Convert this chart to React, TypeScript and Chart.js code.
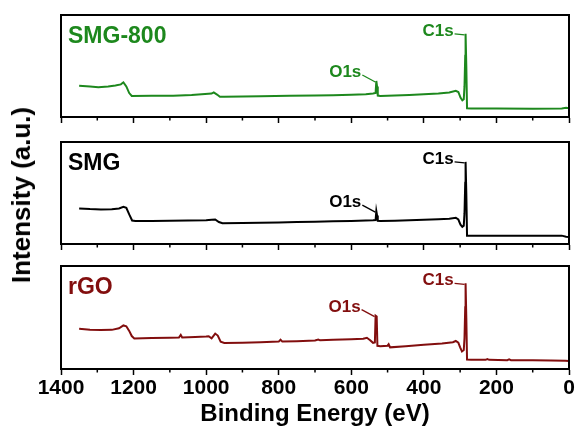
import React, { useEffect, useRef } from 'react';
import { Chart, registerables } from 'chart.js';

Chart.register(...registerables);

const FONT = '"Liberation Sans", Arial, Helvetica, sans-serif';

// ---------- data (binding energy in eV, intensity in a.u. per panel 0-100) ----------
const smg800Energy = [1350, 1320, 1297, 1270, 1250, 1235, 1228, 1220, 1212, 1205, 1150, 1091, 1040, 1003, 985, 979, 970, 962, 950, 900, 850, 770, 700, 650, 600, 560, 540, 533, 531, 529, 527, 520, 480, 440, 400, 360, 330, 312, 305, 299, 294, 290, 288, 286, 285, 283, 281, 270, 200, 100, 20, 8, 0];
const smg800Counts = [30.7, 29.8, 29.1, 29.8, 30.8, 32.0, 34.0, 30.0, 23.5, 20.6, 20.8, 20.9, 21.5, 22.5, 23.0, 24.2, 22.0, 19.9, 19.8, 20.1, 20.4, 20.9, 21.1, 21.3, 21.8, 22.3, 23.0, 23.5, 35.3, 30.0, 21.0, 20.6, 21.0, 21.6, 22.2, 23.0, 24.0, 25.6, 24.5, 19.0, 16.4, 17.5, 30.0, 60.0, 81.5, 50.0, 8.5, 8.4, 8.3, 8.2, 8.4, 9.0, 8.6];

const smgEnergy = [1350, 1320, 1290, 1260, 1240, 1228, 1220, 1212, 1204, 1195, 1150, 1100, 1050, 1000, 985, 975, 965, 955, 900, 850, 800, 750, 700, 650, 600, 560, 540, 533, 531, 529, 527, 520, 480, 440, 400, 360, 330, 312, 305, 299, 294, 290, 288, 286, 285, 283, 281, 270, 200, 100, 20, 8, 0];
const smgCounts = [34.9, 34.2, 33.8, 34.0, 34.8, 36.5, 35.5, 29.0, 23.0, 22.5, 22.6, 22.8, 23.0, 23.3, 23.8, 24.0, 21.5, 20.3, 20.5, 20.8, 21.2, 21.5, 21.8, 22.2, 22.6, 23.0, 23.3, 23.5, 32.2, 28.0, 22.8, 22.5, 22.8, 23.2, 23.7, 24.2, 24.8, 25.7, 24.0, 19.0, 16.9, 18.0, 30.0, 60.0, 80.5, 50.0, 8.2, 8.2, 8.1, 8.1, 8.2, 7.2, 6.8];

const rgoEnergy = [1350, 1320, 1290, 1260, 1240, 1228, 1220, 1212, 1205, 1198, 1150, 1100, 1075, 1070, 1066, 1030, 1000, 993, 985, 975, 968, 960, 950, 900, 850, 800, 795, 790, 750, 700, 691, 686, 650, 600, 567, 557, 548, 540, 535, 533, 530, 528, 520, 500, 497, 493, 450, 400, 350, 320, 312, 305, 300, 295, 290, 288, 286, 285, 283, 281, 270, 230, 225, 220, 170, 165, 160, 100, 50, 10, 0];
const rgoCounts = [39.1, 38.2, 37.8, 38.0, 39.5, 42.3, 41.5, 37.0, 32.0, 29.7, 30.0, 30.4, 30.6, 33.1, 30.6, 31.0, 31.5, 31.8, 29.7, 34.4, 32.5, 26.5, 25.2, 25.6, 26.0, 26.6, 28.4, 26.6, 27.0, 27.6, 28.6, 27.8, 28.3, 28.8, 29.3, 30.3, 28.0, 25.4, 25.8, 51.8, 51.0, 22.5, 22.2, 22.6, 24.0, 21.0, 22.2, 23.6, 24.8, 26.0, 27.2, 25.5, 21.0, 17.0, 18.5, 30.0, 60.0, 83.2, 50.0, 9.2, 9.0, 8.9, 9.6, 8.9, 8.6, 9.3, 8.6, 8.4, 8.3, 8.1, 7.8];

const sampleNames = ['SMG-800', 'SMG', 'rGO'];
const sampleColors = ['#1d881d', '#000000', '#820e0e'];
const peakLabels = ['O1s', 'C1s'];
const smg800Peaks = [531, 285];
const smgPeaks = [531, 285];
const rgoPeaks = [533, 285];

const xTicks = [1400, 1200, 1000, 800, 600, 400, 200, 0];
const xMinorTicks = [1300, 1100, 900, 700, 500, 300, 100];
const xTitle = 'Binding Energy (eV)';
const yTitle = 'Intensity (a.u.)';

// ---------- layout ----------
const W = 577;
const H = 436;
const PLOT_LEFT = 61;
const PLOT_RIGHT = 569;
const boxes = [
  { top: 15, bottom: 117 },
  { top: 142, bottom: 244 },
  { top: 266, bottom: 369 },
];

// label offsets relative to peak top (px)
const annotStyle: Record<string, { dx: number; dy: number }> = {
  O1s: { dx: -15, dy: -4 },
  C1s: { dx: -12, dy: 2 },
};

type PanelProps = {
  energy: number[];
  counts: number[];
  color: string;
  name: string;
  peaks: number[];
  box: { top: number; bottom: number };
  isBottom: boolean;
};

function Panel({ energy, counts, color, name, peaks, box, isBottom }: PanelProps) {
  const ref = useRef<HTMLCanvasElement>(null);
  const padTop = 10;
  const axisH = isBottom ? H - box.bottom : 10;
  const canvasTop = box.top - padTop;
  const canvasH = box.bottom + axisH - canvasTop;

  useEffect(() => {
    const canvas = ref.current;
    if (!canvas) return;

    const framePlugin = {
      id: 'frame',
      afterDraw(chart: any) {
        const { ctx, chartArea: a, scales } = chart;
        ctx.save();
        // frame
        ctx.strokeStyle = '#000';
        ctx.lineWidth = 2;
        ctx.strokeRect(a.left, a.top, a.right - a.left, a.bottom - a.top);
        // minor ticks
        ctx.lineWidth = 1.5;
        ctx.beginPath();
        for (const v of xMinorTicks) {
          const px = scales.x.getPixelForValue(v);
          ctx.moveTo(px, a.bottom);
          ctx.lineTo(px, a.bottom + 3.5);
        }
        ctx.stroke();
        // sample name
        ctx.fillStyle = color;
        ctx.font = `bold 23px ${FONT}`;
        ctx.textAlign = 'left';
        ctx.textBaseline = 'alphabetic';
        ctx.fillText(name, a.left + 7, a.top + 28);
        // peak annotations
        ctx.font = `bold 17px ${FONT}`;
        ctx.textAlign = 'right';
        ctx.strokeStyle = color;
        ctx.lineWidth = 1.3;
        peaks.forEach((pe, i) => {
          let best = 0;
          energy.forEach((e, j) => {
            if (Math.abs(e - pe) < Math.abs(energy[best] - pe)) best = j;
          });
          const px = scales.x.getPixelForValue(energy[best]);
          const py = scales.y.getPixelForValue(counts[best]);
          const st = annotStyle[peakLabels[i]];
          const tx = px + st.dx;
          const ty = py + st.dy;
          ctx.fillText(peakLabels[i], tx, ty);
          ctx.beginPath();
          ctx.moveTo(tx + 1, ty - 2);
          ctx.lineTo(px - 1, py + 1);
          ctx.stroke();
        });
        ctx.restore();
      },
    };

    const chart = new Chart(canvas, {
      type: 'line',
      data: {
        datasets: [
          {
            label: name,
            data: energy.map((e, i) => ({ x: e, y: counts[i] })),
            borderColor: color,
            borderWidth: 2,
            pointRadius: 0,
            tension: 0,
            fill: false,
          },
        ],
      },
      options: {
        responsive: false,
        animation: false,
        devicePixelRatio: 1,
        events: [],
        layout: { padding: { top: padTop, left: PLOT_LEFT, right: W - PLOT_RIGHT, bottom: 0 } },
        plugins: {
          legend: { display: false },
          tooltip: { enabled: false },
        },
        scales: {
          x: {
            type: 'linear',
            min: 0,
            max: 1400,
            reverse: true,
            afterBuildTicks: (s: any) => {
              s.ticks = xTicks.map((v) => ({ value: v }));
            },
            afterFit: (s: any) => {
              s.height = axisH;
            },
            ticks: {
              display: isBottom,
              autoSkip: false,
              maxRotation: 0,
              padding: 1,
              color: '#000',
              font: { family: FONT, size: 21, weight: 'bold' },
              callback: (v: any) => String(v),
            },
            grid: {
              display: true,
              drawOnChartArea: false,
              drawTicks: true,
              tickLength: 6,
              tickWidth: 1.5,
              tickColor: '#000',
            },
            border: { display: true, color: '#000', width: 2 },
            title: {
              display: isBottom,
              text: xTitle,
              color: '#000',
              font: { family: FONT, size: 24, weight: 'bold' },
              padding: { top: 0, bottom: 7 },
            },
          },
          y: { display: false, min: 0, max: 100 },
        },
      },
      plugins: [framePlugin],
    } as any);
    return () => chart.destroy();
  }, []);

  return (
    <canvas
      ref={ref}
      width={W}
      height={canvasH}
      style={{ position: 'absolute', left: 0, top: canvasTop, width: W, height: canvasH, display: 'block' }}
    />
  );
}

export default function App() {
  const energies = [smg800Energy, smgEnergy, rgoEnergy];
  const counts = [smg800Counts, smgCounts, rgoCounts];
  const peaks = [smg800Peaks, smgPeaks, rgoPeaks];
  return (
    <div style={{ position: 'absolute', left: 0, top: 0, width: W, height: H, background: '#fff', overflow: 'hidden' }}>
      {sampleNames.map((n, i) => (
        <Panel
          key={n}
          energy={energies[i]}
          counts={counts[i]}
          color={sampleColors[i]}
          name={n}
          peaks={peaks[i]}
          box={boxes[i]}
          isBottom={i === 2}
        />
      ))}
      <div
        style={{
          position: 'absolute',
          left: 21,
          top: 195,
          transform: 'translate(-50%, -50%) rotate(-90deg)',
          whiteSpace: 'nowrap',
          fontFamily: FONT,
          fontWeight: 'bold',
          fontSize: 26,
          lineHeight: '28px',
          color: '#000',
        }}
      >
        {yTitle}
      </div>
    </div>
  );
}
